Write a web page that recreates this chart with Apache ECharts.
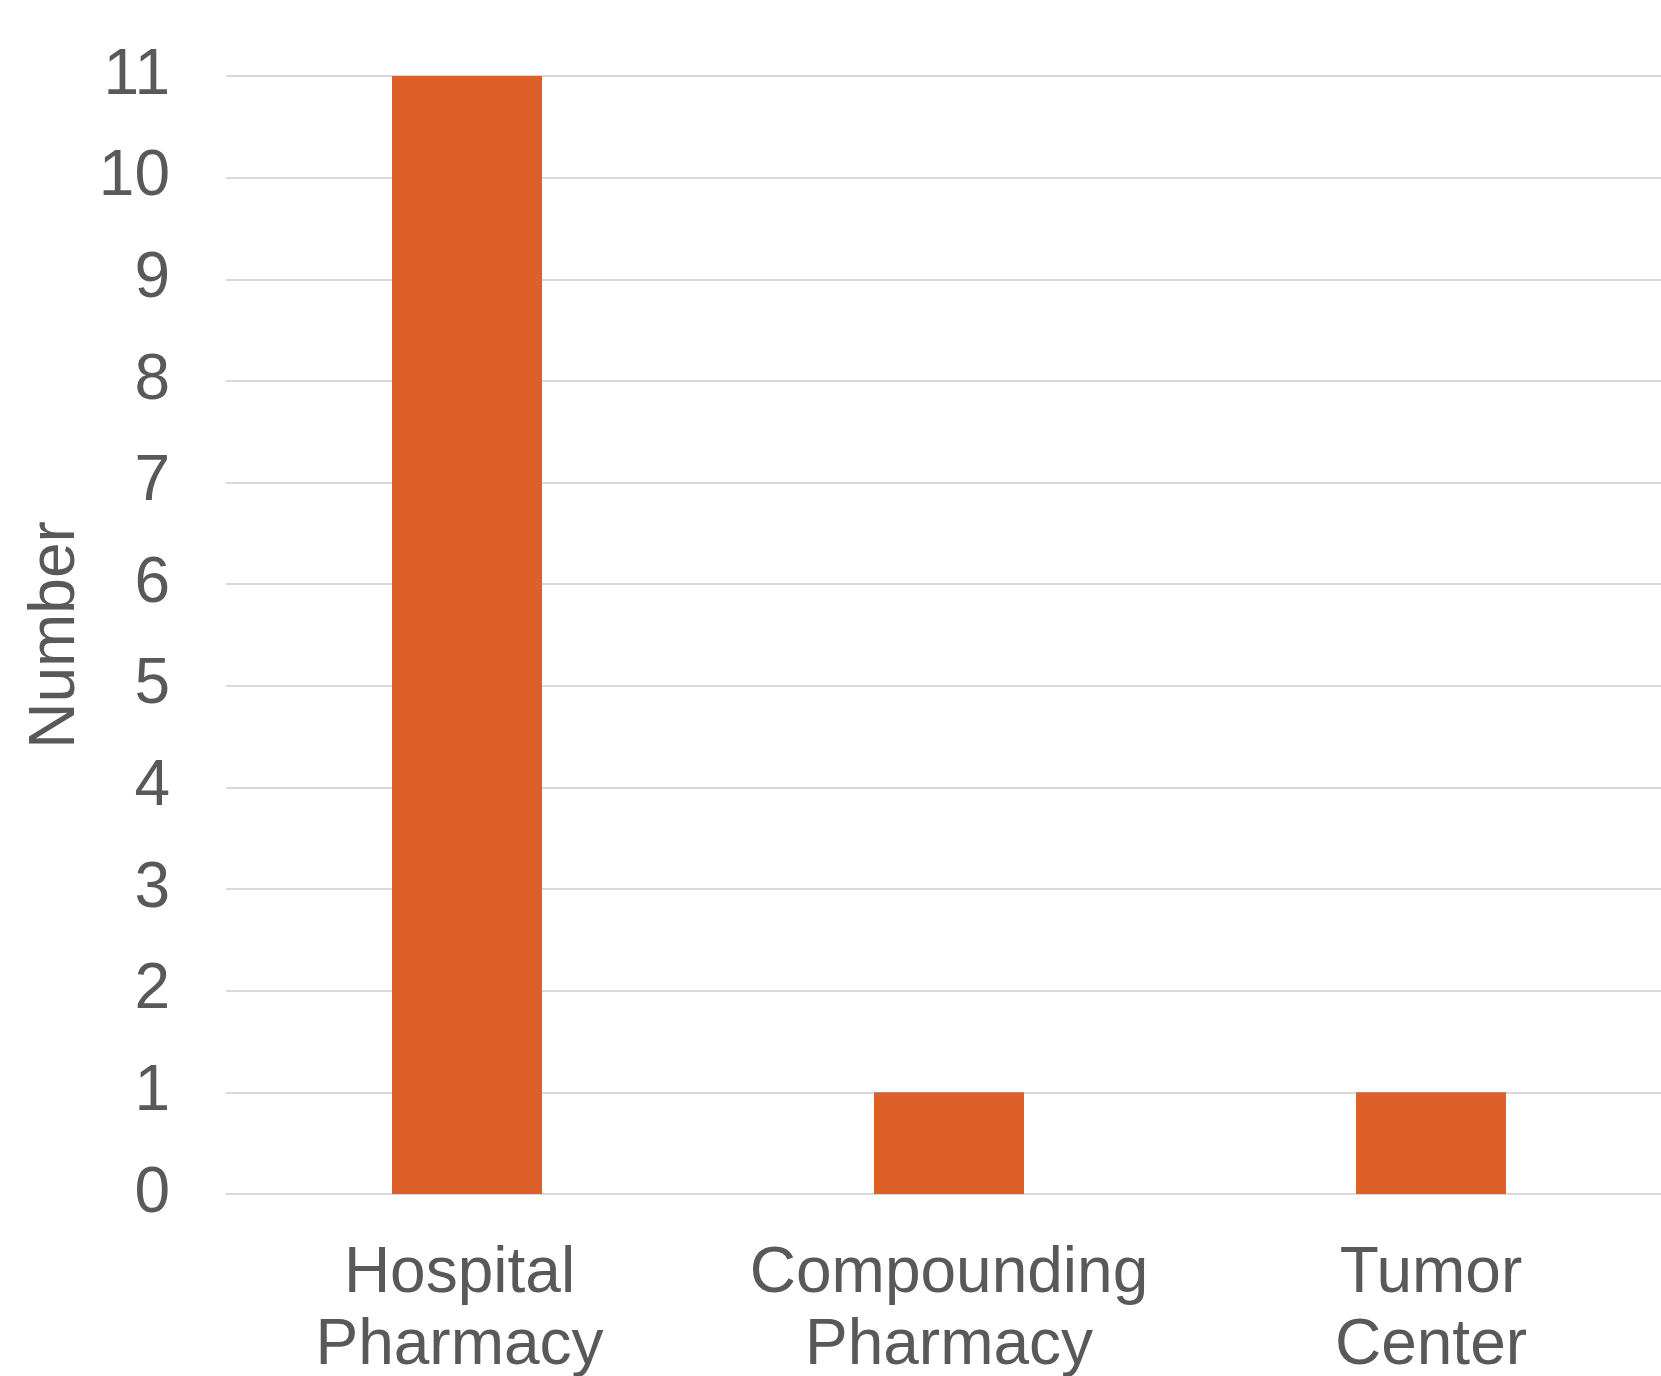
<!DOCTYPE html>
<html>
<head>
<meta charset="utf-8">
<script src="https://cdn.jsdelivr.net/npm/echarts@6/dist/echarts.min.js"></script>
<style>html,body{margin:0;padding:0;background:#fff}#c{width:1661px;height:1376px}</style>
</head>
<body>
<div id="c"></div>
<script>
const categories = ['Hospital\nPharmacy', 'Compounding\nPharmacy', 'Tumor\nCenter'];
const values = [11, 1, 1];
const yTicks = [0, 1, 2, 3, 4, 5, 6, 7, 8, 9, 10, 11];
const yAxisName = 'Number';

const chart = echarts.init(document.getElementById('c'));
const font = 'Liberation Sans, Arial, sans-serif';
const catData = categories.map((c, i) => i === 0 ? { value: c, textStyle: { padding: [0, 15, 0, 0] } } : c);
chart.setOption({
  animation: false,
  grid: { left: 226, top: 76, width: 1446, bottom: 182, containLabel: false, outerBoundsMode: 'none' },
  xAxis: {
    type: 'category',
    data: catData,
    axisLine: { show: true, lineStyle: { color: '#d9d9d9', width: 2 } },
    axisTick: { show: false },
    axisLabel: { color: '#595959', fontSize: 64, fontFamily: font, lineHeight: 72, margin: 44, interval: 0 }
  },
  yAxis: {
    type: 'value',
    min: yTicks[0],
    max: yTicks[yTicks.length - 1],
    interval: 1,
    name: yAxisName,
    nameLocation: 'middle',
    nameGap: 130,
    nameTextStyle: { color: '#595959', fontSize: 64, fontFamily: font },
    axisLine: { show: false },
    axisTick: { show: false },
    axisLabel: { color: '#595959', fontSize: 64, fontFamily: font, margin: 56 },
    splitLine: { lineStyle: { color: '#d9d9d9', width: 2 } }
  },
  series: [{
    type: 'bar',
    data: values,
    barWidth: 150,
    itemStyle: { color: '#DD6029' }
  }]
});
</script>
</body>
</html>
